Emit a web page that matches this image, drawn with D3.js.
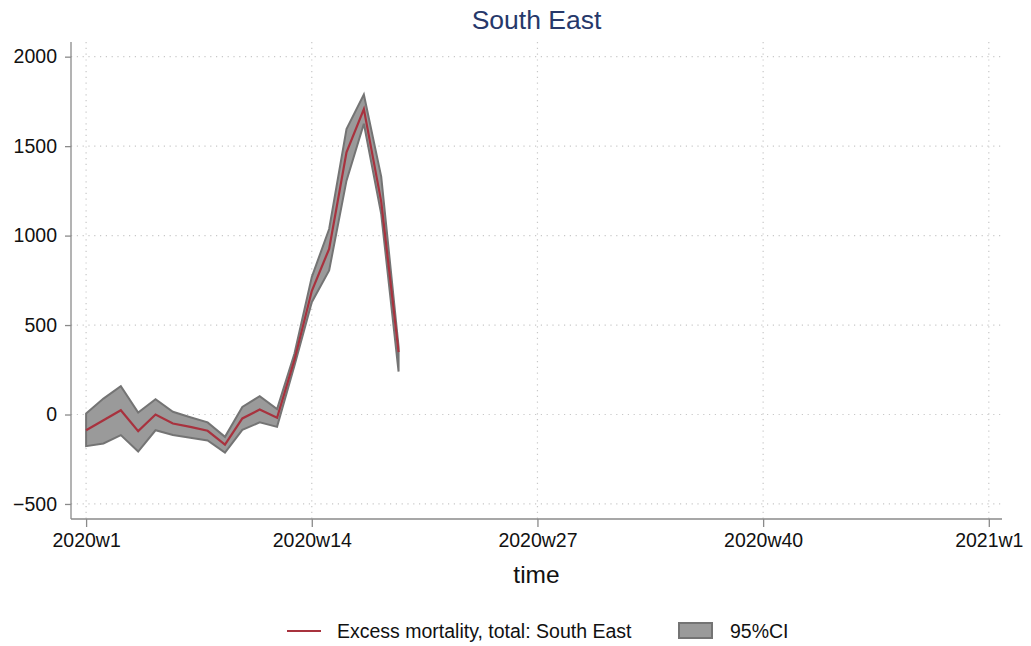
<!DOCTYPE html>
<html><head><meta charset="utf-8">
<script src="https://cdn.jsdelivr.net/npm/d3@7"></script>
<style>body{margin:0;background:#fff}svg{display:block;font-family:"Liberation Sans",Arial,sans-serif}</style>
</head><body><svg id="c" width="1031" height="646"></svg>
<script>
const weeks = [0,1,2,3,4,5,6,7,8,9,10,11,12,13,14,15,16,17,18];
const excess = [-88,-32,24,-93,0,-50,-69,-91,-168,-22,28,-18,305,690,926,1465,1707,1190,349];
const upper  = [5,89,158,11,85,15,-15,-44,-125,42,102,30,340,768,1037,1595,1788,1330,380];
const lower  = [-177,-162,-115,-207,-88,-115,-130,-145,-213,-86,-44,-69,272,628,805,1307,1625,1120,240];
const xTickVals = [0,13,26,39,52];
const xTickLabels = ["2020w1","2020w14","2020w27","2020w40","2021w1"];
const yTickVals = [-500,0,500,1000,1500,2000];

const svg = d3.select("#c");
const L=71,R=1002,T=42,B=519;
const x = d3.scaleLinear().domain([-0.87,52.76]).range([L,R]);
const y = d3.scaleLinear().domain([-584,2082]).range([B,T]);
const FS = 19.5;

// grid
const g = svg.append("g");
g.selectAll("line.hg").data(yTickVals).join("line")
  .attr("x1",L).attr("x2",R).attr("y1",d=>y(d)).attr("y2",d=>y(d))
  .attr("stroke","#c8c8c8").attr("stroke-width",1.2).attr("stroke-dasharray","1.2,4.6");
g.selectAll("line.vg").data(xTickVals).join("line")
  .attr("y1",T).attr("y2",B).attr("x1",d=>x(d)).attr("x2",d=>x(d))
  .attr("stroke","#c8c8c8").attr("stroke-width",1.2).attr("stroke-dasharray","1.2,4.6");

// CI band
const pts = weeks.map((w,i)=>({w,e:excess[i],u:upper[i],l:lower[i]}));
svg.append("path").datum(pts)
  .attr("d",d3.area().x(d=>x(d.w)).y0(d=>y(d.l)).y1(d=>y(d.u)))
  .attr("fill","#9a9a9a").attr("stroke","#747474").attr("stroke-width",2).attr("stroke-linejoin","miter");
svg.append("path").datum(pts)
  .attr("d",d3.line().x(d=>x(d.w)).y(d=>y(d.e)))
  .attr("fill","none").attr("stroke","#a8323e").attr("stroke-width",2.2);

// axes
const axC = "#8a8a8a";
const ya = svg.append("g").attr("transform",`translate(${L},0)`)
  .call(d3.axisLeft(y).tickValues(yTickVals).tickSize(6).tickPadding(8).tickFormat(d=>d<0?"\u2212"+Math.abs(d):d));
ya.select(".domain").attr("d",`M0,${T}V${B}`).attr("stroke",axC).attr("stroke-width",1.3);
ya.selectAll(".tick line").attr("stroke",axC).attr("stroke-width",1.3);
ya.selectAll(".tick text").attr("font-size",FS).attr("fill","#111").attr("font-family","Liberation Sans, Arial, sans-serif");

const xa = svg.append("g").attr("transform",`translate(0,${B})`)
  .call(d3.axisBottom(x).tickValues(xTickVals).tickSize(8).tickPadding(6).tickFormat((d,i)=>xTickLabels[i]));
xa.select(".domain").attr("d",`M${L},0H${R}`).attr("stroke",axC).attr("stroke-width",1.3);
xa.selectAll(".tick line").attr("stroke",axC).attr("stroke-width",1.3);
xa.selectAll(".tick text").attr("font-size",FS).attr("fill","#111").attr("font-family","Liberation Sans, Arial, sans-serif");

// titles
svg.append("text").attr("x",(L+R)/2).attr("y",29).attr("text-anchor","middle")
  .attr("font-size",26.5).attr("fill","#26386a").text("South East");
svg.append("text").attr("x",(L+R)/2).attr("y",583).attr("text-anchor","middle")
  .attr("font-size",24.5).attr("fill","#111").text("time");

// legend
const lg = svg.append("g");
lg.append("line").attr("x1",287).attr("x2",321).attr("y1",631).attr("y2",631).attr("stroke","#a8323e").attr("stroke-width",2);
lg.append("text").attr("x",337).attr("y",638).attr("font-size",FS).attr("fill","#111").text("Excess mortality, total: South East");
lg.append("rect").attr("x",679).attr("y",623).attr("width",33).attr("height",15).attr("fill","#9a9a9a").attr("stroke","#747474").attr("stroke-width",2);
lg.append("text").attr("x",730).attr("y",638).attr("font-size",FS).attr("fill","#111").text("95%CI");
</script></body></html>
